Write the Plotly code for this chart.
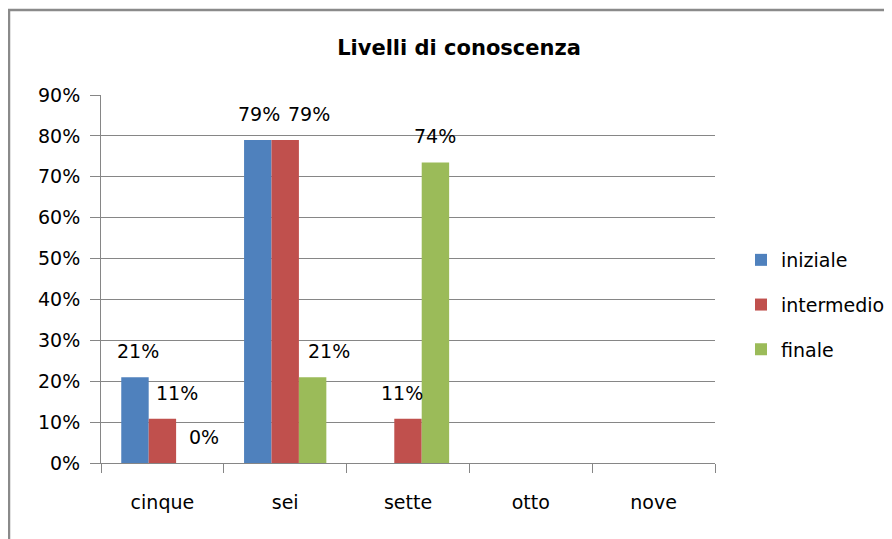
import plotly.graph_objects as go

# data
categories = ["cinque", "sei", "sette", "otto", "nove"]
iniziale = [0.21, 0.79, None, None, None]
intermedio = [0.108, 0.79, 0.108, None, None]
finale = [0.0, 0.21, 0.735, None, None]
y_ticks = [0, 0.1, 0.2, 0.3, 0.4, 0.5, 0.6, 0.7, 0.8, 0.9]

series = [
    ("iniziale", iniziale, "#4F81BD"),
    ("intermedio", intermedio, "#C0504D"),
    ("finale", finale, "#9BBB59"),
]

# Excel-style nudges of the data labels (pixels, per series / category)
label_nudge = {
    ("iniziale", "cinque"): 3, ("intermedio", "cinque"): 15, ("finale", "cinque"): 14,
    ("iniziale", "sei"): 1, ("intermedio", "sei"): 24, ("finale", "sei"): 16,
    ("intermedio", "sette"): -6, ("finale", "sette"): 0,
}

FONT = "DejaVu Sans"
OFF = 8  # page body margin
W, H = 892 - OFF, 539 - OFF
L, T = 101 - OFF, 95 - OFF
PW, PH = 614, 368
R, B = W - L - PW, H - T - PH
BARGAP = 0.33

fig = go.Figure()
for name, vals, color in series:
    fig.add_trace(go.Bar(
        x=categories, y=vals, name=name, legendgroup=name,
        marker=dict(color=color, line=dict(width=0)),
    ))

# data labels placed above each bar
cat_px = PW / len(categories)
bar_px = cat_px * (1 - BARGAP) / len(series)
annotations = []
for i, (name, vals, color) in enumerate(series):
    for cat, v in zip(categories, vals):
        if v is None:
            continue
        annotations.append(dict(
            x=cat, y=v, xref="x", yref="y", text=f"{v:.0%}", showarrow=False,
            xshift=(i - 1) * bar_px + label_nudge.get((name, cat), 0),
            yshift=26, yanchor="middle", xanchor="center",
            font=dict(family=FONT, size=19, color="#000000"),
        ))

grid = "#868686"
fig.update_layout(
    width=W, height=H,
    margin=dict(l=L, r=R, t=T, b=B, autoexpand=False),
    paper_bgcolor="white", plot_bgcolor="white",
    barmode="group", bargap=BARGAP, bargroupgap=0,
    font=dict(family=FONT, size=19, color="#000000"),
    title=dict(
        text="<b>Livelli di conoscenza</b>",
        x=(459 - OFF) / W, xref="container", xanchor="center",
        y=1 - (48 - OFF) / H, yref="container", yanchor="middle",
        font=dict(family=FONT, size=21, color="#000000"),
    ),
    legend=dict(
        xref="container", yref="container",
        x=(741 - OFF) / W, xanchor="left",
        y=1 - (305 - OFF) / H, yanchor="middle",
        font=dict(family=FONT, size=19), tracegroupgap=17,
        bgcolor="rgba(0,0,0,0)",
    ),
    annotations=annotations,
    shapes=[dict(
        type="rect", xref="paper", yref="paper",
        x0=(9 - OFF - L) / PW, x1=(W + 10 - L) / PW,
        y0=-(B + 10) / PH, y1=(PH + T - (10 - OFF)) / PH,
        line=dict(color="#8a8a8a", width=2.5), layer="below",
    )],
)

fig.update_xaxes(
    type="category", categoryorder="array", categoryarray=categories,
    showline=True, linecolor=grid, linewidth=1,
    ticks="outside", tickson="boundaries", ticklen=9, tickcolor=grid,
    ticklabelstandoff=22, showgrid=False,
)
fig.update_yaxes(
    range=[0, 0.9], tickvals=y_ticks, tickformat=".0%",
    showline=True, linecolor=grid, linewidth=1,
    ticks="outside", ticklen=10, tickcolor=grid, ticklabelstandoff=6,
    showgrid=True, gridcolor=grid, gridwidth=1, zeroline=False,
)

fig.write_html("out.html")
